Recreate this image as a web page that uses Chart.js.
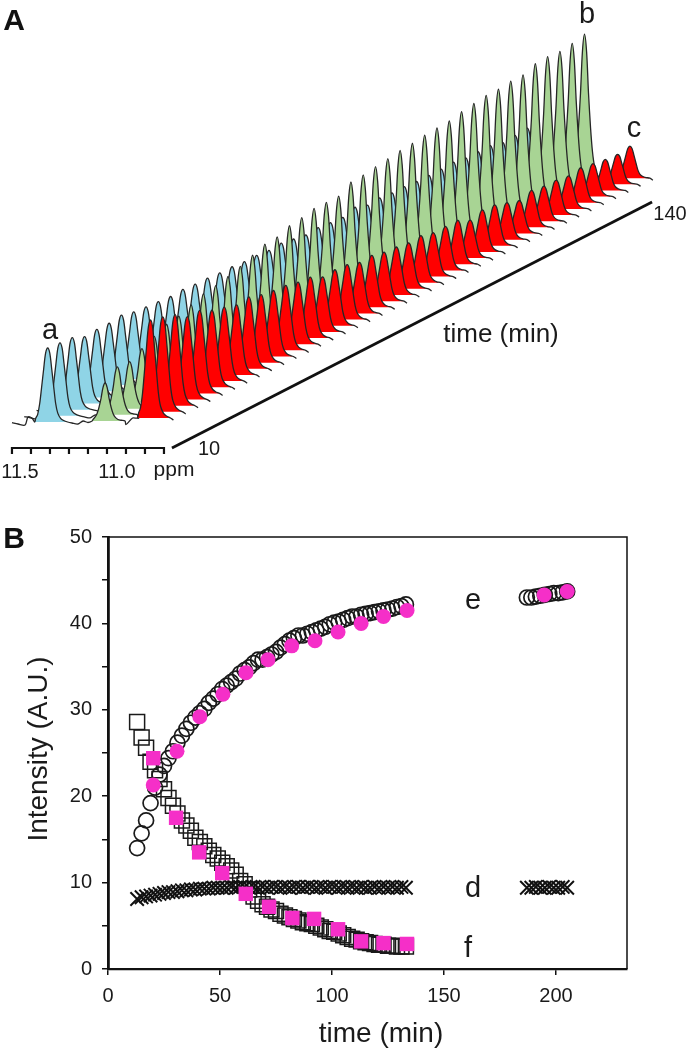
<!DOCTYPE html>
<html>
<head>
<meta charset="utf-8">
<title>NMR kinetics</title>
<script src="https://cdn.jsdelivr.net/npm/chart.js@4/dist/chart.umd.min.js"></script>
<style>
  html, body { margin: 0; padding: 0; background: #fff; }
  #page { position: relative; width: 688px; height: 1050px; overflow: hidden; font-family: "Liberation Sans", Arial, sans-serif; color: #1a1a1a; }
  canvas { position: absolute; left: 0; }
  #spectra { top: 0; }
  #kinetics { top: 500px; }
  .lbl { position: absolute; line-height: 1; white-space: nowrap; transform: translate(-50%, -50%); }
  .panel { font-weight: bold; font-size: 30px; color: #111; }
  .peak { font-size: 29px; }
  .tick { font-size: 20px; }
  .title { font-size: 27px; }
</style>
</head>
<body>
<div id="page">
  <canvas id="spectra" width="688" height="500"></canvas>
  <canvas id="kinetics" width="688" height="550"></canvas>

  <div class="lbl panel" style="left:14px;top:20px">A</div>
  <div class="lbl peak" style="left:50px;top:329px">a</div>
  <div class="lbl peak" style="left:587px;top:13px">b</div>
  <div class="lbl peak" style="left:634px;top:127px">c</div>
  <div class="lbl title" style="left:501px;top:333px;font-size:26px">time (min)</div>
  <div class="lbl tick" style="left:670px;top:213px">140</div>
  <div class="lbl tick" style="left:209px;top:448px">10</div>
  <div class="lbl tick" style="left:20px;top:471px">11.5</div>
  <div class="lbl tick" style="left:117px;top:471px">11.0</div>
  <div class="lbl tick" style="left:174px;top:468px;font-size:21px">ppm</div>

  <div class="lbl panel" style="left:14px;top:538px">B</div>
  <div class="lbl peak" style="left:473px;top:599px">e</div>
  <div class="lbl peak" style="left:473px;top:887px">d</div>
  <div class="lbl peak" style="left:468px;top:947px">f</div>
  <div class="lbl title" style="left:381px;top:1033px;font-size:28px">time (min)</div>
  <div class="lbl title" style="left:38px;top:749px;font-size:28px;transform:translate(-50%, -50%) rotate(-90deg)">Intensity (A.U.)</div>
</div>

<script>
// ---- panel A: peak height of each trace, front (10 min) to back (140 min)
var blue_heights = [74, 73, 72, 67, 68, 68, 70, 67, 66, 65, 64, 65, 64, 64, 63, 63, 62, 62, 61, 62,
  60, 58, 59, 58, 57, 61, 57, 58, 57, 57, 56, 56, 56, 57, 55, 55, 55, 52, 53, 54];
var green_heights = [38, 48, 47, 54, 60, 66, 68, 73, 78, 80, 83, 87, 92, 97, 98, 103, 105, 108, 108, 108,
  116, 117, 119, 121, 123, 124, 126, 127, 128, 131, 133, 135, 135, 137, 137, 142, 143, 142, 144, 147];
var red_heights = [98, 95, 91, 83, 83, 77, 74, 70, 72, 68, 66, 65, 62, 61, 55, 56, 55, 51, 52, 49,
  48, 46, 47, 44, 44, 44, 38, 42, 41, 37, 33, 37, 35, 35, 33, 35, 33, 31, 30, 32];

// peak centres on the ppm scale
var blue_ppm = 11.312;
var green_ppm = 11.01;
var red_ppm = 10.771;

// shape of one peak
var peak_offsets = [0.068, 0.063, 0.053, 0.042, 0.032, 0.021, 0.011, 0, -0.011, -0.021, -0.032, -0.042, -0.053, -0.068, -0.084, -0.105];
var peak_shape = [0, 0.05, 0.1, 0.25, 0.47, 0.72, 0.93, 1, 0.93, 0.72, 0.47, 0.25, 0.12, 0.05, 0.02, 0];
// the green peak is slimmer, the blue one shows next to it
var green_shape = [0, 0.04, 0.1, 0.2, 0.36, 0.6, 0.88, 1, 0.88, 0.6, 0.36, 0.2, 0.1, 0.04, 0.02, 0];

// baseline noise between the peaks
var noise_a_ppm = [11.5, 11.468, 11.431, 11.416, 11.395];
var noise_a = [-0.7, -2, -3, 5, 4];
var noise_b_ppm = [11.184, 11.153, 11.126, 11.1];
var noise_b = [-1, -2, 1, -0.5];
var noise_c_ppm = [10.9, 10.865];
var noise_c = [-2.5, 4];
var noise_d_ppm = [10.65];
var noise_d = [2];

var ppm_ticks = [11.5, 11.4, 11.3, 11.2, 11.1, 11.0, 10.9, 10.8, 10.7];

// ---- panel B
var times = [13, 15, 17, 19, 21, 23, 25, 27, 29, 31, 33, 35, 37, 39, 41, 43, 45, 47, 49, 51,
  53, 55, 57, 59, 61, 63, 65, 67, 69, 71, 73, 75, 77, 79, 81, 83, 85, 87, 89, 91,
  93, 95, 97, 99, 101, 103, 105, 107, 109, 111, 113, 115, 117, 119, 121, 123, 125, 127, 129, 131, 133];
var late_times = [187, 189, 191, 193, 195, 197, 199, 201, 203, 205];

var d_values = [8.1, 8.3, 8.4, 8.5, 8.6, 8.7, 8.8, 8.9, 8.9, 9.0, 9.1, 9.1, 9.2, 9.2, 9.3, 9.3, 9.3, 9.4, 9.4, 9.4,
  9.4, 9.5, 9.4, 9.5, 9.5, 9.4, 9.5, 9.4, 9.5, 9.4, 9.5, 9.5, 9.4, 9.5, 9.4, 9.5, 9.5, 9.4, 9.5, 9.5,
  9.4, 9.5, 9.4, 9.5, 9.5, 9.4, 9.5, 9.4, 9.5, 9.4, 9.5, 9.4, 9.4, 9.5, 9.4, 9.5, 9.4, 9.5, 9.4, 9.5, 9.4];
var d_late = [9.4, 9.4, 9.5, 9.4, 9.4, 9.5, 9.4, 9.4, 9.5, 9.4];

var e_values = [14.0, 15.7, 17.2, 19.2, 21.0, 22.5, 23.5, 24.4, 25.2, 26.2, 27.0, 27.8, 28.5, 29.1, 29.6, 30.1, 30.8, 31.3, 31.8, 32.4,
  32.8, 33.2, 33.6, 34.2, 34.6, 34.9, 35.4, 35.8, 35.8, 36.1, 36.4, 36.7, 37.2, 37.6, 38.0, 38.3, 38.6, 38.6, 38.8, 39.0,
  39.2, 39.4, 39.6, 39.9, 40.1, 40.2, 40.4, 40.6, 40.8, 40.8, 41.0, 41.1, 41.2, 41.3, 41.4, 41.5, 41.6, 41.7, 41.9, 42.0, 42.2];
var e_late = [43.0, 43.0, 43.1, 43.2, 43.3, 43.4, 43.5, 43.5, 43.6, 43.7];

var f_values = [28.6, 26.8, 25.6, 24.0, 23.0, 22.0, 20.8, 19.8, 18.9, 18.0, 17.2, 16.6, 16.0, 15.2, 14.7, 14.2, 13.7, 13.2, 12.8, 12.3,
  11.9, 11.4, 10.9, 10.2, 9.8, 9.2, 8.4, 7.9, 7.5, 7.2, 6.9, 6.7, 6.4, 6.2, 6.0, 5.8, 5.6, 5.4, 5.3, 5.2,
  5.0, 4.8, 4.6, 4.4, 4.3, 4.1, 3.9, 3.7, 3.5, 3.4, 3.2, 3.1, 3.0, 2.9, 2.8, 2.8, 2.7, 2.7, 2.6, 2.6, 2.6];

var pink_e_times = [20.2, 30.8, 41, 51.3, 61.6, 71.4, 82, 92.4, 102.7, 113, 123, 133.5, 194.7, 205];
var pink_e = [21.3, 25.2, 29.2, 31.8, 34.3, 35.8, 37.4, 38.0, 39.0, 40.0, 40.8, 41.5, 43.3, 43.7];
var pink_f_times = [20.2, 30.4, 40.7, 51, 61.5, 71.9, 82.3, 92, 102.7, 113, 123, 133.5];
var pink_f = [24.4, 17.5, 13.5, 11.1, 8.7, 7.2, 5.9, 5.8, 4.6, 3.2, 3.0, 2.9];

var x_ticks = [0, 50, 100, 150, 200];
var y_tick_labels = [0, 10, 20, 30, 40, 50];

function points(xs, ys) {
  return xs.map(function (x, i) {
    return { x: x, y: ys[i] };
  });
}

// ---- panel A, every trace is pushed right and up along the time axis
var trace_step_ppm = 0.0647;
var trace_step_height = 6.15;
var first_base = 78;

function peakPoints(center, height, base, shape) {
  return peak_offsets.map(function (off, k) {
    return { x: center + off, y: base + height * shape[k] };
  });
}

function noisePoints(xs, ys, shift, base) {
  return xs.map(function (x, k) {
    return { x: x - shift, y: base + ys[k] };
  });
}

var spectra_sets = [];
blue_heights.forEach(function (blue, i) {
  var shift = i * trace_step_ppm;
  var base = first_base + i * trace_step_height;
  var blue_pts = peakPoints(blue_ppm - shift, blue, base, peak_shape);
  var green_pts = peakPoints(green_ppm - shift, green_heights[i], base + 1, green_shape);
  var red_pts = peakPoints(red_ppm - shift, red_heights[i], base + 4, peak_shape);

  var outline = []
    .concat(noisePoints(noise_a_ppm, noise_a, shift, base))
    .concat(blue_pts)
    .concat(noisePoints(noise_b_ppm, noise_b, shift, base))
    .concat(green_pts)
    .concat(noisePoints(noise_c_ppm, noise_c, shift, base))
    .concat(red_pts)
    .concat(noisePoints(noise_d_ppm, noise_d, shift, base));

  // first dataset is painted last, so the front trace comes first
  spectra_sets.push({ data: outline, borderColor: "#262626", borderWidth: 1.3, fill: false });
  spectra_sets.push({ data: red_pts, borderWidth: 0, backgroundColor: "#ff0000", fill: { value: base + 4 } });
  spectra_sets.push({ data: green_pts, borderWidth: 0, backgroundColor: "#a8d494", fill: { value: base + 1 } });
  spectra_sets.push({ data: blue_pts, borderWidth: 0, backgroundColor: "#8fd4e6", fill: { value: base } });
});

// ppm axis with its tick marks
var ppm_axis = [];
ppm_ticks.forEach(function (t) {
  ppm_axis.push({ x: t, y: 52 });
  ppm_axis.push({ x: t, y: 46 });
  ppm_axis.push({ x: t, y: 52 });
});
spectra_sets.unshift({ data: ppm_axis, borderColor: "#111", borderWidth: 2.2, fill: false, tension: 0 });
// time axis, 10 to 140 min
spectra_sets.unshift({ data: points([10.658, 8.131], [52, 298]), borderColor: "#111", borderWidth: 2.8, fill: false, tension: 0 });

new Chart(document.getElementById("spectra"), {
  type: "scatter",
  data: { datasets: spectra_sets },
  options: {
    responsive: false,
    animation: false,
    showLine: true,
    layout: { padding: 0 },
    plugins: { legend: { display: false }, tooltip: { enabled: false } },
    elements: { point: { radius: 0 }, line: { tension: 0.3 } },
    scales: {
      x: { type: "linear", reverse: true, min: 7.942, max: 11.563, display: false },
      y: { type: "linear", min: 0, max: 500, display: false },
    },
  },
});

// ---- panel B
// top and right edge of the frame
var frame_plugin = {
  id: "frame",
  afterDraw: function (chart) {
    var a = chart.chartArea;
    var ctx = chart.ctx;
    ctx.save();
    ctx.strokeStyle = "#111";
    ctx.lineWidth = 1.5;
    ctx.beginPath();
    ctx.moveTo(a.left, a.top);
    ctx.lineTo(a.right, a.top);
    ctx.lineTo(a.right, a.bottom);
    ctx.stroke();
    ctx.restore();
  },
};

function markerSet(data, style, radius, fill, line, width) {
  return {
    data: data,
    pointStyle: style,
    pointRadius: radius,
    pointBackgroundColor: fill,
    pointBorderColor: line,
    pointBorderWidth: width,
    showLine: false,
    clip: false,
  };
}

new Chart(document.getElementById("kinetics"), {
  type: "scatter",
  data: {
    datasets: [
      markerSet(points(pink_e_times, pink_e), "circle", 7.5, "#f52fc8", "#f52fc8", 0),
      markerSet(points(pink_f_times, pink_f), "rect", 10.2, "#f52fc8", "#f52fc8", 0),
      markerSet(points(times, d_values), "crossRot", 9.5, "#111", "#111", 2),
      markerSet(points(late_times, d_late), "crossRot", 9.5, "#111", "#111", 2),
      markerSet(points(times, e_values), "circle", 7.5, "rgba(0,0,0,0)", "#1a1a1a", 1.7),
      markerSet(points(late_times, e_late), "circle", 7.5, "rgba(0,0,0,0)", "#1a1a1a", 1.7),
      markerSet(points(times, f_values), "rect", 10.6, "rgba(0,0,0,0)", "#1a1a1a", 1.5),
    ],
  },
  options: {
    responsive: false,
    animation: false,
    layout: { padding: { top: 37, right: 61, left: 0, bottom: 0 } },
    plugins: { legend: { display: false }, tooltip: { enabled: false } },
    scales: {
      x: {
        type: "linear",
        min: 0,
        max: 231.7,
        afterFit: function (scale) {
          scale.height = 81;
        },
        afterBuildTicks: function (scale) {
          scale.ticks = x_ticks.map(function (v) {
            return { value: v };
          });
        },
        grid: { drawOnChartArea: false, drawTicks: true, tickLength: 6, color: "#111", lineWidth: 1.5 },
        border: { color: "#111", width: 2.2 },
        ticks: { color: "#1a1a1a", font: { family: "Liberation Sans", size: 20 }, padding: 9, maxRotation: 0, autoSkip: false },
      },
      y: {
        type: "linear",
        min: 0,
        max: 50,
        afterFit: function (scale) {
          scale.width = 108;
        },
        grid: { drawOnChartArea: false, drawTicks: true, tickLength: 6, color: "#111", lineWidth: 1.5 },
        border: { color: "#111", width: 2.8 },
        ticks: {
          stepSize: 5,
          autoSkip: false,
          color: "#1a1a1a",
          font: { family: "Liberation Sans", size: 20 },
          padding: 10,
          callback: function (v) {
            return y_tick_labels.indexOf(v) >= 0 ? v : "";
          },
        },
      },
    },
  },
  plugins: [frame_plugin],
});
</script>
</body>
</html>
